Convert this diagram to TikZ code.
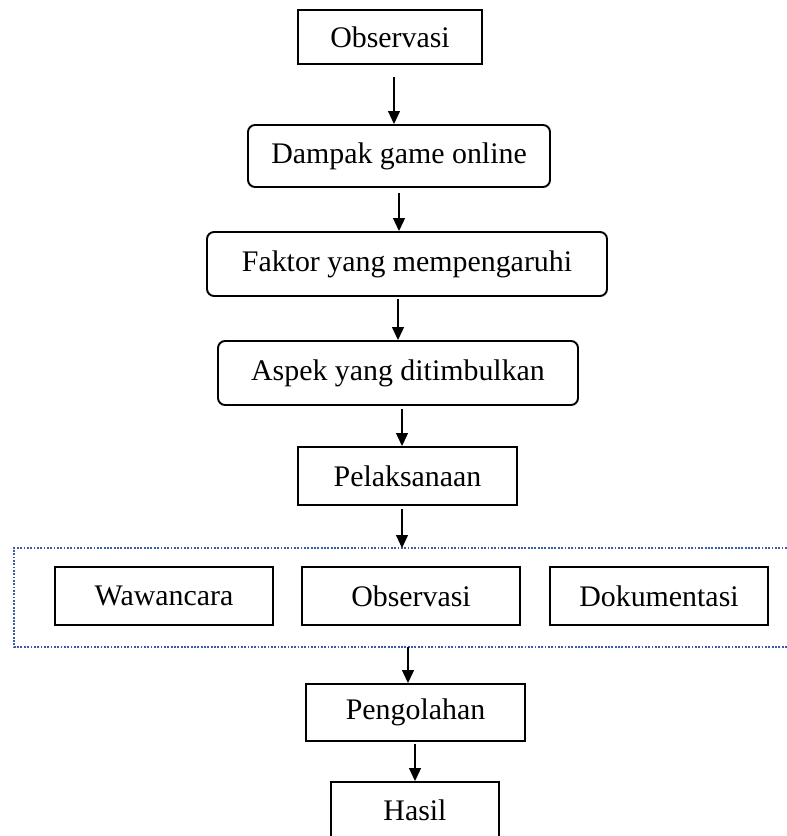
\documentclass[tikz,border=0pt]{standalone}
\usepackage{fontspec}
\setmainfont{Liberation Serif}
\usetikzlibrary{arrows.meta,positioning,calc}
\definecolor{Ink}{HTML}{000000}
\definecolor{DotBlue}{HTML}{3A5DA3}
\tikzset{plainbox/.style={rectangle,draw=Ink,line width=1.1pt,fill=white,minimum height=1.16cm,inner sep=0pt,align=center,text=Ink},roundbox/.style={plainbox,rounded corners=4pt,minimum height=1.28cm},flow/.style={draw=Ink,line width=0.65pt,-{Triangle[length=2.6mm,width=2.4mm]}},groupline/.style={draw=DotBlue,line width=1.5pt,dash pattern=on 1pt off 0.9pt}}
\begin{document}
\begin{tikzpicture}[font=\fontsize{17}{20}\selectfont]
\useasboundingbox (0,0) rectangle (15.72,-16.72);
\node[plainbox,minimum width=3.68cm,minimum height=1.08cm] (obs) at (7.80,-0.74) {Observasi};
\node[roundbox,minimum width=6.04cm,minimum height=1.24cm] (dampak) at (7.98,-3.12) {Dampak game online};
\node[roundbox,minimum width=8.00cm] (faktor) at (8.14,-5.28) {Faktor yang mempengaruhi};
\node[roundbox,minimum width=7.20cm] (aspek) at (7.96,-7.46) {Aspek yang ditimbulkan};
\node[plainbox,minimum width=4.38cm] (pelaks) at (8.15,-9.52) {Pelaksanaan};
% kelompok teknik pengumpulan data
\draw[groupline] (16.2,-10.96) -- (0.28,-10.96) -- (0.28,-12.94) -- (16.2,-12.94);
\coordinate (grpTop) at (8.04,-10.96);
\coordinate (grpBot) at (8.16,-12.94);
\node[plainbox,minimum width=4.36cm] (wawan) at (3.28,-11.92) {Wawancara};
\node[plainbox,minimum width=4.36cm] (obs2) at (8.22,-11.92) {Observasi};
\node[plainbox,minimum width=4.36cm] (doku) at (13.18,-11.92) {Dokumentasi};
\node[plainbox,minimum width=4.38cm,minimum height=1.14cm] (olah) at (8.31,-14.25) {Pengolahan};
\node[plainbox,minimum width=3.36cm,minimum height=1.12cm] (hasil) at (8.30,-16.20) {Hasil};
% panah
\coordinate (a1) at ([xshift=0.08cm]obs.south);
\coordinate (a4) at ([xshift=0.08cm]aspek.south);
\draw[flow,shorten <=0.24cm] (a1) -- (a1 |- dampak.north);
\draw[flow,shorten <=0.1cm] (dampak.south) -- (dampak.south |- faktor.north);
\draw[flow,shorten <=0.04cm] (faktor.south -| aspek.north) -- (aspek.north);
\draw[flow,shorten <=0.06cm] (a4) -- (a4 |- pelaks.north);
\draw[flow,shorten <=0.06cm] (pelaks.south -| grpTop) -- (grpTop);
\draw[flow] (grpBot) -- (grpBot |- olah.north);
\draw[flow,shorten <=0.04cm] (olah.south -| hasil.north) -- (hasil.north);
\end{tikzpicture}
\end{document}
